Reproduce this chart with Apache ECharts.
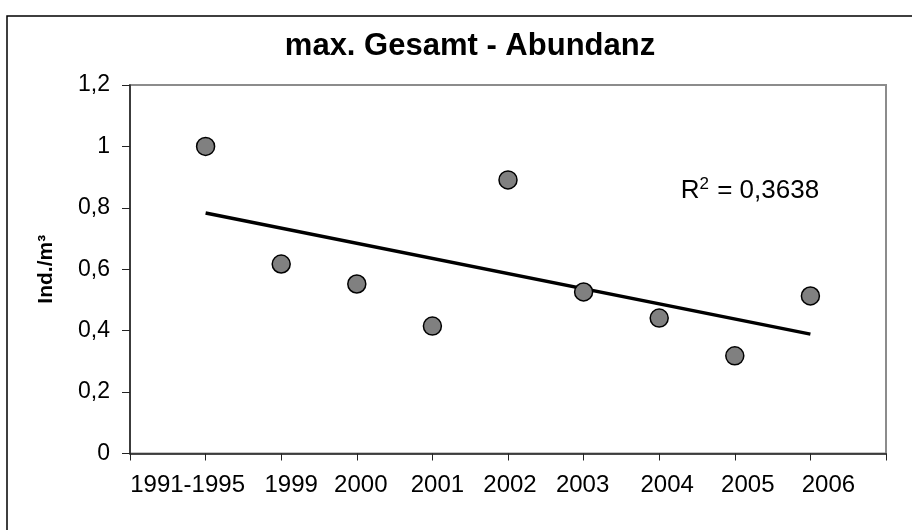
<!DOCTYPE html>
<html>
<head>
<meta charset="utf-8">
<script src="https://cdn.jsdelivr.net/npm/echarts@6/dist/echarts.min.js"></script>
<style>
  html, body { margin: 0; padding: 0; background: #fff; }
  #chart { width: 912px; height: 530px; }
</style>
</head>
<body>
<div id="chart"></div>
<script>
// data
const years = ['1991-1995', '1999', '2000', '2001', '2002', '2003', '2004', '2005', '2006']
const xPos = [1, 2, 3, 4, 5, 6, 7, 8, 9]
const abundance = [1.0, 0.617, 0.552, 0.415, 0.891, 0.526, 0.441, 0.318, 0.513]
const yTicks = [0, 0.2, 0.4, 0.6, 0.8, 1, 1.2]
const rSquaredText = '0,3638'
const rSquaredAt = [8.2, 0.855]

// the year labels in the original sit a bit off their ticks (px, + = right)
const labelNudge = [-18, 10, 4, 5, 2, -1, 8, 13, 18]

// least squares trend line
const n = xPos.length
const mx = xPos.reduce((a, b) => a + b, 0) / n
const my = abundance.reduce((a, b) => a + b, 0) / n
let sxy = 0
let sxx = 0
xPos.forEach((x, i) => {
  sxy += (x - mx) * (abundance[i] - my)
  sxx += (x - mx) * (x - mx)
})
const slope = sxy / sxx
const icpt = my - slope * mx
const trend = [xPos[0], xPos[n - 1]].map((x) => [x, icpt + slope * x])

const font = 'Arial, "Liberation Sans", sans-serif'
const rich = {}
labelNudge.forEach((d, i) => {
  rich['l' + i] = {
    fontFamily: font,
    fontSize: 24,
    color: '#000',
    padding: d >= 0 ? [0, 0, 0, d * 2] : [0, -d * 2, 0, 0],
  }
})

const myChart = echarts.init(document.getElementById('chart'), null, { renderer: 'canvas' })

myChart.setOption({
  animation: false,
  backgroundColor: '#fff',
  grid: {
    left: 130,
    top: 85,
    right: 26,
    bottom: 76.5,
    show: true,
    borderColor: '#8c8c8c',
    borderWidth: 2,
    backgroundColor: '#fff',
  },
  xAxis: {
    type: 'value',
    min: 0,
    max: 10,
    interval: 1,
    axisLine: { show: true, onZero: false, lineStyle: { color: '#222', width: 1.5 } },
    axisTick: { show: true, inside: false, length: 7, lineStyle: { color: '#222', width: 1 } },
    splitLine: { show: false },
    axisLabel: {
      customValues: xPos,
      margin: 20,
      formatter: (v) => {
        const i = xPos.indexOf(Math.round(v))
        return i < 0 ? '' : '{l' + i + '|' + years[i] + '}'
      },
      rich,
    },
  },
  yAxis: {
    type: 'value',
    min: 0,
    max: 1.2,
    interval: 0.2,
    name: 'Ind./m³',
    nameLocation: 'middle',
    nameGap: 73,
    nameTextStyle: { fontFamily: font, fontSize: 21, fontWeight: 'bold', color: '#000' },
    axisLine: { show: true, lineStyle: { color: '#222', width: 1.5 } },
    axisTick: { show: true, inside: false, length: 8, lineStyle: { color: '#222', width: 1 } },
    splitLine: { show: false },
    axisLabel: {
      customValues: yTicks,
      margin: 20,
      fontFamily: font,
      fontSize: 23,
      color: '#000',
      formatter: (v) => String(+v.toFixed(1)).replace('.', ','),
    },
  },
  graphic: [
    {
      type: 'rect',
      silent: true,
      shape: { x: 7, y: 16, width: 940, height: 560 },
      style: { fill: 'none', stroke: '#000', lineWidth: 1.5 },
      z: 100,
    },
    {
      type: 'text',
      x: 470,
      y: 46,
      style: {
        text: 'max. Gesamt - Abundanz',
        fontFamily: font,
        fontSize: 31,
        fontWeight: 'bold',
        fill: '#000',
        align: 'center',
        verticalAlign: 'middle',
      },
    },
  ],
  series: [
    {
      name: 'Trend',
      type: 'line',
      data: trend,
      symbol: 'none',
      lineStyle: { color: '#000', width: 3.5 },
      silent: true,
      z: 2,
    },
    {
      name: 'Abundanz',
      type: 'scatter',
      data: xPos.map((x, i) => [x, abundance[i]]),
      symbol: 'circle',
      symbolSize: 18,
      itemStyle: { color: '#808080', borderColor: '#000', borderWidth: 1.5, opacity: 1 },
      z: 3,
    },
    {
      name: 'R2',
      type: 'scatter',
      data: [rSquaredAt],
      symbolSize: 0,
      silent: true,
      z: 4,
      itemStyle: { color: '#000', opacity: 1 },
      label: {
        show: true,
        position: 'inside',
        color: '#000',
        opacity: 1,
        textBorderWidth: 0,
        formatter: '{r|R}{s|2}{r| = ' + rSquaredText + '}',
        rich: {
          r: { fontFamily: font, fontSize: 26, color: '#000', textBorderWidth: 0 },
          s: { fontFamily: font, fontSize: 17, color: '#000', textBorderWidth: 0, padding: [0, 1, 13, 0] },
        },
      },
    },
  ],
})
</script>
</body>
</html>
